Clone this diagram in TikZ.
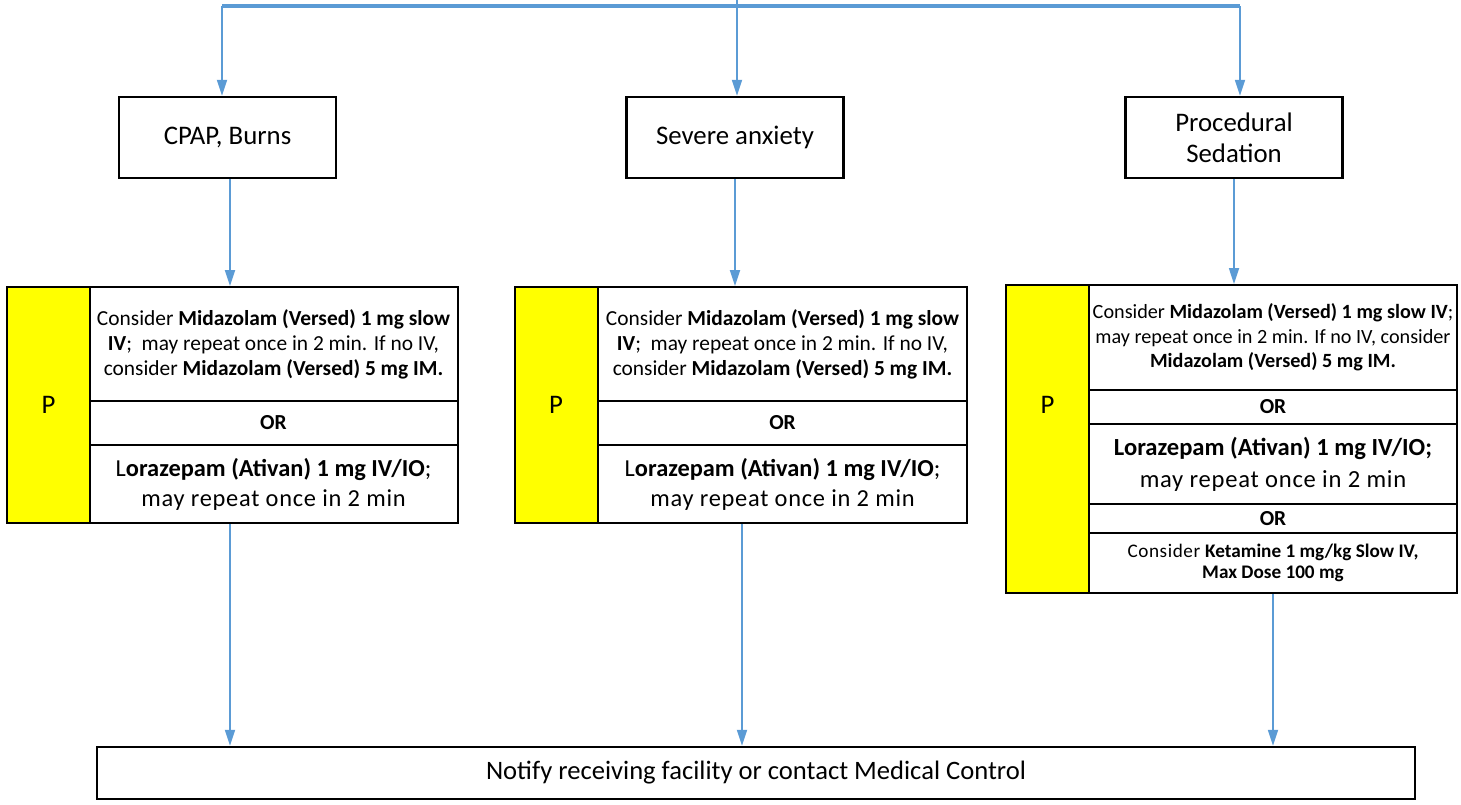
\documentclass[tikz,border=0pt]{standalone}
\usepackage{fontspec}
\setmainfont{Carlito}
\usepackage{xcolor}
\usetikzlibrary{arrows.meta}
\definecolor{flowblue}{RGB}{91,155,213}
\definecolor{pyellow}{RGB}{255,255,0}
\newcommand\boxfont{\fontsize{13.4}{15.5}\selectfont}
\newcommand\midfont{\fontsize{10.7}{12.5}\selectfont}
\newcommand\lorfont{\fontsize{12.2}{15}\selectfont}
\newcommand\rmidfont{\fontsize{10.1}{12.2}\selectfont}
\newcommand\rlorfont{\fontsize{12.3}{16}\selectfont}
\newcommand\ketfont{\fontsize{9.6}{10.6}\selectfont}
\newcommand\notefont{\fontsize{13.3}{15}\selectfont}
\newcommand\wide[1]{{\addfontfeature{LetterSpace=3}#1}}

\begin{document}
\begin{tikzpicture}[
    x=0.5pt, y=-0.5pt,
    topbox/.style={rectangle, draw, line width=1.2pt, minimum width=108.5pt, minimum height=40.5pt, align=center, font=\boxfont},
    pcell/.style={rectangle, draw, line width=1pt, fill=pyellow, minimum width=41.5pt, inner sep=0pt},
    drugcell/.style={rectangle, draw, line width=1pt, minimum width=184pt, inner sep=0pt, align=center},
    orcell/.style={drugcell, font=\midfont\bfseries},
    endbox/.style={rectangle, draw, line width=1.2pt, minimum width=659pt, minimum height=26pt, font=\notefont},
    flow/.style={draw=flowblue, line width=0.9pt, -{Triangle[width=5pt,length=8pt]}}
]
\useasboundingbox (0,0) rectangle (1461,804);

% indications
\node[topbox] (cpap) at (227.5,137.5) {CPAP, Burns};
\node[topbox] (anxiety) at (735,137.5) {Severe anxiety};
\node[topbox] (sedation) at (1234,137.5) {Procedural\\Sedation};

% left table
\node[pcell, minimum height=118pt, label={[font=\boxfont]center:P}] (lp) at (48.5,405) {};
\node[drugcell, minimum height=57pt, font=\midfont] (lmid) at (273.5,344)
  {Consider \textbf{Midazolam (Versed) 1 mg slow}\\ \textbf{IV};~ may repeat once in 2 min. If no IV,\\ consider \textbf{Midazolam (Versed) 5 mg IM.}};
\node[orcell, minimum height=22pt] (lor) at (273.5,423) {OR};
\node[drugcell, minimum height=39pt, font=\lorfont] (llor) at (273.5,484)
  {L\textbf{orazepam (Ativan) 1 mg IV/IO};\\ \wide{may repeat once in 2 min}};

% middle table
\node[pcell, minimum height=118pt, label={[font=\boxfont]center:P}] (mp) at (556,405) {};
\node[drugcell, minimum width=184.5pt, minimum height=57pt, font=\midfont] (mmid) at (782.5,344)
  {Consider \textbf{Midazolam (Versed) 1 mg slow}\\ \textbf{IV};~ may repeat once in 2 min. If no IV,\\ consider \textbf{Midazolam (Versed) 5 mg IM.}};
\node[orcell, minimum width=184.5pt, minimum height=22pt] (mor) at (782.5,423) {OR};
\node[drugcell, minimum width=184.5pt, minimum height=39pt, font=\lorfont] (mlor) at (782.5,484)
  {L\textbf{orazepam (Ativan) 1 mg IV/IO};\\ \wide{may repeat once in 2 min}};

% right table
\node[pcell, minimum height=154pt, label={[font=\boxfont, yshift=17pt]center:P}] (rp) at (1047.5,439) {};
\node[drugcell, minimum height=52.5pt, font=\rmidfont] (rmid) at (1273,337.5)
  {Consider \textbf{Midazolam (Versed) 1 mg slow IV};\\ may repeat once in 2 min. If no IV, consider\\ \textbf{Midazolam (Versed) 5 mg IM.}};
\node[orcell, minimum height=17pt] (ror) at (1273,407) {OR};
\node[drugcell, minimum height=40pt, font=\rlorfont] (rlor) at (1273,464)
  {\textbf{Lorazepam (Ativan) 1 mg IV/IO;}\\ \wide{may repeat once in 2 min}};
\node[orcell, minimum height=14.5pt] (ror2) at (1273,518.5) {OR};
\node[drugcell, minimum height=30pt, font=\ketfont] (rket) at (1273,563)
  {\wide{Consider} \textbf{Ketamine 1 mg/kg Slow IV,}\\ \textbf{Max Dose 100 mg}};

\node[endbox] (notify) at (756,773) {Notify receiving facility or contact Medical Control};

% connectors
\coordinate (src) at (737,0);
\coordinate (barL) at (222,6);
\coordinate (barM) at (737,6);
\coordinate (barR) at (1240,6);
\coordinate (leftout) at (230,523);
\coordinate (midout) at (742,523);
\draw[flowblue, line width=1.2pt] (src) -- (barM);
\draw[flowblue, line width=1.6pt] (barL) -- (barR);
\draw[flow] (barL) -- (barL |- cpap.north);
\draw[flow] (barM) -- (barM |- anxiety.north);
\draw[flow] (barR) -- (barR |- sedation.north);
\draw[flow] (leftout |- cpap.south) -- (leftout |- lmid.north);
\draw[flow] (anxiety.south) -- (anxiety.south |- mmid.north);
\draw[flow] (sedation.south) -- (sedation.south |- rmid.north);
\draw[flow] (leftout |- llor.south) -- (leftout |- notify.north);
\draw[flow] (midout |- mlor.south) -- (midout |- notify.north);
\draw[flow] (rket.south) -- (rket.south |- notify.north);
\end{tikzpicture}
\end{document}
